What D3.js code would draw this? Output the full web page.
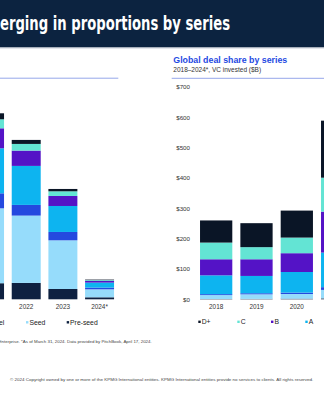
<!DOCTYPE html>
<html>
<head>
<meta charset="utf-8">
<script src="https://cdn.jsdelivr.net/npm/d3@7"></script>
<style>
  body { margin: 0; background: #fff; }
  svg { display: block; font-family: "Liberation Sans", Arial, sans-serif; }
</style>
</head>
<body>
<svg id="chart" width="324" height="400"></svg>
<script>
// series, bottom of stack first
const seriesKeys = ["Pre-seed", "Seed", "Angel", "A", "B", "C", "D+"];
const legendKeys = ["D+", "C", "B", "A", "Angel", "Seed", "Pre-seed"];

// left panel: deal count by series (only 2021 onwards is in view)
const leftYears = ["2018", "2019", "2020", "2021", "2022", "2023", "2024*"];
const leftDataYears = ["2021", "2022", "2023", "2024*"];
const leftPreseed = [5300, 5400, 3400, 660];
const leftSeed = [24700, 22200, 16050, 2640];
const leftAngel = [4950, 3520, 2750, 560];
const leftA = [14840, 12860, 8570, 1650];
const leftB = [6590, 5050, 3300, 560];
const leftC = [2970, 2200, 1540, 260];
const leftD = [1980, 1320, 770, 165];

// right panel: VC invested ($B) by series (2018-2021 in view)
const rightYears = ["2018", "2019", "2020", "2021", "2022", "2023", "2024*"];
const rightDataYears = ["2018", "2019", "2020", "2021"];
const rightPreseed = [1, 1.5, 2, 3];
const rightSeed = [13, 15, 15.5, 28];
const rightAngel = [3, 3.5, 4.5, 9];
const rightA = [62, 57, 68, 114];
const rightB = [53, 55, 62, 135];
const rightC = [55, 40, 51.5, 112];
const rightD = [73, 79, 89, 188];
const rightTicks = [0, 100, 200, 300, 400, 500, 600, 700];

const colors = {
  "Pre-seed": "#0e2141",
  "Seed": "#96dcfb",
  "Angel": "#2449df",
  "A": "#0db4f0",
  "B": "#5413c6",
  "C": "#63e4d4",
  "D+": "#0a1526"
};

function toRows(years, arrs) {
  return years.map((y, i) => {
    let r = { year: y };
    seriesKeys.forEach((k, j) => r[k] = arrs[j][i]);
    return r;
  });
}

const leftRows = toRows(leftDataYears, [leftPreseed, leftSeed, leftAngel, leftA, leftB, leftC, leftD]);
const rightRows = toRows(rightDataYears, [rightPreseed, rightSeed, rightAngel, rightA, rightB, rightC, rightD]);

const svg = d3.select("#chart");

// header band
svg.append("rect").attr("x", 0).attr("y", 0).attr("width", 324).attr("height", 47.5).attr("fill", "#0c2340");
svg.append("rect").attr("x", 0).attr("y", 47.5).attr("width", 324).attr("height", 1).attr("fill", "#c9ced8");
svg.append("text")
  .attr("x", 0).attr("y", 29.5)
  .attr("fill", "#fff")
  .style("font-family", "'Liberation Sans Narrow', 'DejaVu Sans Condensed', Arial, sans-serif")
  .style("font-weight", "bold")
  .style("font-size", "19px")
  .attr("textLength", 230)
  .attr("lengthAdjust", "spacingAndGlyphs")
  .text("erging in proportions by series");

const baseY = 299.3, topY = 87;
const stack = d3.stack().keys(seriesKeys);

// only label the years that fall inside the picture
function visibleTicks(x) {
  return x.domain().filter((d) => x(d) + x.bandwidth() / 2 - 8 > 0 && x(d) + x.bandwidth() / 2 + 8 < 324);
}

function drawPanel(rows, x, y) {
  let g = svg.append("g");
  g.selectAll(".layer")
    .data(stack(rows))
    .enter().append("g")
    .attr("fill", (d) => colors[d.key])
    .selectAll("rect")
    .data((d) => d)
    .enter().append("rect")
    .attr("x", (d) => x(d.data.year))
    .attr("width", x.bandwidth())
    .attr("y", (d) => y(d[1]))
    .attr("height", (d) => y(d[0]) - y(d[1]));

  let gx = g.append("g")
    .attr("transform", "translate(0," + baseY + ")")
    .call(d3.axisBottom(x).tickValues(visibleTicks(x)).tickSize(0).tickPadding(5));
  gx.select(".domain").remove();
  gx.selectAll("text")
    .style("font-family", "'Liberation Sans', Arial, sans-serif")
    .style("font-size", "6.4px")
    .attr("fill", "#333");
  return g;
}

// left panel
let xL = d3.scaleBand().domain(leftYears).range([-138.8, 117.9]).paddingInner(0.21).paddingOuter(0.105);
let yL = d3.scaleLinear().domain([0, 70000]).range([baseY, topY]);
drawPanel(leftRows, xL, yL);

svg.append("line").attr("x1", 0).attr("x2", 118.3).attr("y1", 78.2).attr("y2", 78.2)
  .attr("stroke", "#8a9de8").attr("stroke-width", 0.9);

// right panel
let xR = d3.scaleBand().domain(rightYears).range([196, 478.3]).paddingInner(0.2).paddingOuter(0.1);
let yR = d3.scaleLinear().domain([0, 700]).range([baseY, topY]);
drawPanel(rightRows, xR, yR);

let gy = svg.append("g")
  .attr("transform", "translate(191,0)")
  .call(d3.axisLeft(yR).tickValues(rightTicks).tickSize(0).tickPadding(1).tickFormat((d) => "$" + d));
gy.select(".domain").remove();
gy.selectAll("text")
  .style("font-family", "'Liberation Sans', Arial, sans-serif")
  .style("font-size", "6.2px")
  .attr("fill", "#333");

svg.append("text").attr("x", 173.3).attr("y", 63.3)
  .attr("fill", "#1e49e2").style("font-weight", "bold").style("font-size", "8.8px")
  .text("Global deal share by series");
svg.append("text").attr("x", 173.3).attr("y", 71.6)
  .attr("fill", "#333").style("font-size", "6.5px")
  .text("2018\u20132024*, VC invested ($B)");
svg.append("line").attr("x1", 171.7).attr("x2", 324).attr("y1", 78.3).attr("y2", 78.3)
  .attr("stroke", "#8a9de8").attr("stroke-width", 0.9);

// legends, keeping the entries that reach into the picture
function legend(items, xs, yc) {
  let shown = items.map((d, i) => ({ key: d, x: xs[i] }))
    .filter((d) => d.x + 3.4 + d.key.length * 3.6 > 0 && d.x < 324);
  let lg = svg.append("g").selectAll("g")
    .data(shown)
    .enter().append("g")
    .attr("transform", (d) => "translate(" + d.x + "," + yc + ")");
  lg.append("rect")
    .attr("x", 0).attr("y", -1.2).attr("width", 2.4).attr("height", 2.4)
    .attr("fill", (d) => colors[d.key]);
  lg.append("text")
    .attr("x", 3.4).attr("y", 2.4)
    .attr("fill", "#222")
    .style("font-size", "6.8px")
    .text((d) => d.key);
}
legend(legendKeys, [-178, -138, -98, -57, -16.5, 26, 66.7], 322.3);
legend(legendKeys, [198.3, 237.3, 271, 305.3, 339.6, 374, 408], 321.8);

// footnotes
svg.append("text").attr("x", 151.7).attr("y", 343.4)
  .attr("text-anchor", "end")
  .attr("fill", "#444").style("font-size", "4.4px")
  .text("Source: Venture Pulse, Q1'24, Global Analysis of Venture Funding, KPMG Private Enterprise. *As of March 31, 2024. Data provided by PitchBook, April 17, 2024.");
svg.append("text").attr("x", 10).attr("y", 380.6)
  .attr("fill", "#444").style("font-size", "4.3px")
  .attr("textLength", 303.3).attr("lengthAdjust", "spacingAndGlyphs")
  .text("\u00a9 2024 Copyright owned by one or more of the KPMG International entities. KPMG International entities provide no services to clients. All rights reserved.");
</script>
</body>
</html>
